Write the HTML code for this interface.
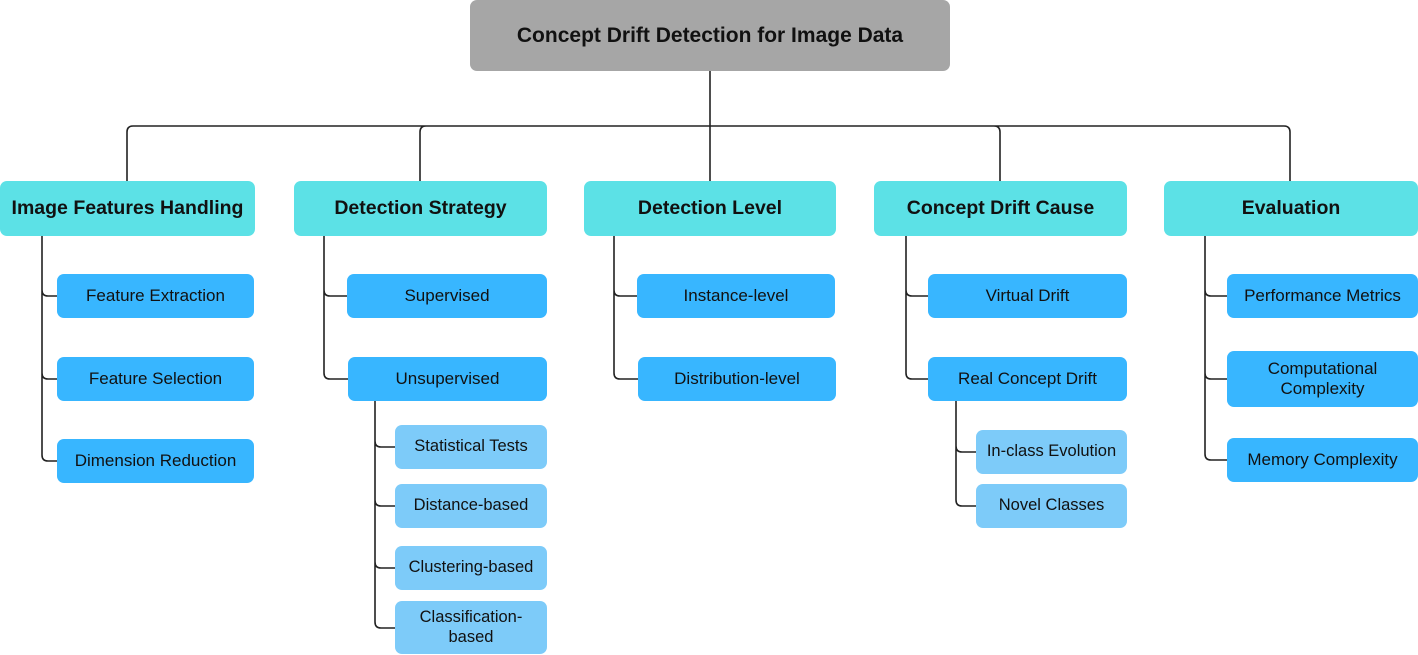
<!DOCTYPE html>
<html><head><meta charset="utf-8"><style>
body{margin:0;width:1418px;height:655px;background:#fff;position:relative;overflow:hidden;font-family:"Liberation Sans",sans-serif}
.b{position:absolute;display:flex;align-items:center;justify-content:center;text-align:center;border-radius:7px;color:#111;box-sizing:border-box;line-height:1.2}
.r{background:#a6a6a6;font-weight:bold;font-size:21px}
.h{background:#5ce1e6;font-weight:bold;font-size:19.5px;white-space:nowrap}
.c{background:#38b6ff;font-size:17px}
.s{background:#7dcbf9;font-size:16.5px}
svg{position:absolute;left:0;top:0}
</style></head><body>
<svg width="1418" height="655" fill="none" stroke="#222" stroke-width="1.6">
<path d="M710 71V126M127 181V132q0-6 6-6H1284q6 0 6 6V181M420 181V132q0-6 6-6M710 126V181M1000 181V132q0-6-6-6"/>
<path d="M42 236V290q0 6 6 6H57M42 290V373q0 6 6 6H57M42 373V455q0 6 6 6H57"/>
<path d="M324 236V290q0 6 6 6H347M324 290V373q0 6 6 6H348"/>
<path d="M375 401V441q0 6 6 6H395M375 441V500q0 6 6 6H395M375 500V562q0 6 6 6H395M375 562V622q0 6 6 6H395"/>
<path d="M614 236V290q0 6 6 6H637M614 290V373q0 6 6 6H638"/>
<path d="M906 236V290q0 6 6 6H928M906 290V373q0 6 6 6H928"/>
<path d="M956 401V446q0 6 6 6H976M956 446V500q0 6 6 6H976"/>
<path d="M1205 236V290q0 6 6 6H1227M1205 290V373q0 6 6 6H1227M1205 373V454q0 6 6 6H1227"/>
</svg>
<div class="b r" style="left:470px;top:0;width:480px;height:71px">Concept Drift Detection for Image Data</div>
<div class="b h" style="left:0;top:181px;width:255px;height:55px">Image Features Handling</div>
<div class="b h" style="left:294px;top:181px;width:253px;height:55px">Detection Strategy</div>
<div class="b h" style="left:584px;top:181px;width:252px;height:55px">Detection Level</div>
<div class="b h" style="left:874px;top:181px;width:253px;height:55px">Concept Drift Cause</div>
<div class="b h" style="left:1164px;top:181px;width:254px;height:55px">Evaluation</div>
<div class="b c" style="left:57px;top:274px;width:197px;height:44px">Feature Extraction</div>
<div class="b c" style="left:57px;top:357px;width:197px;height:44px">Feature Selection</div>
<div class="b c" style="left:57px;top:439px;width:197px;height:44px">Dimension Reduction</div>
<div class="b c" style="left:347px;top:274px;width:200px;height:44px">Supervised</div>
<div class="b c" style="left:348px;top:357px;width:199px;height:44px">Unsupervised</div>
<div class="b s" style="left:395px;top:425px;width:152px;height:44px">Statistical Tests</div>
<div class="b s" style="left:395px;top:484px;width:152px;height:44px">Distance-based</div>
<div class="b s" style="left:395px;top:546px;width:152px;height:44px">Clustering-based</div>
<div class="b s" style="left:395px;top:601px;width:152px;height:53px">Classification-<br>based</div>
<div class="b c" style="left:637px;top:274px;width:198px;height:44px">Instance-level</div>
<div class="b c" style="left:638px;top:357px;width:198px;height:44px">Distribution-level</div>
<div class="b c" style="left:928px;top:274px;width:199px;height:44px">Virtual Drift</div>
<div class="b c" style="left:928px;top:357px;width:199px;height:44px">Real Concept Drift</div>
<div class="b s" style="left:976px;top:430px;width:151px;height:44px">In-class Evolution</div>
<div class="b s" style="left:976px;top:484px;width:151px;height:44px">Novel Classes</div>
<div class="b c" style="left:1227px;top:274px;width:191px;height:44px">Performance Metrics</div>
<div class="b c" style="left:1227px;top:351px;width:191px;height:56px">Computational<br>Complexity</div>
<div class="b c" style="left:1227px;top:438px;width:191px;height:44px">Memory Complexity</div>
</body></html>
